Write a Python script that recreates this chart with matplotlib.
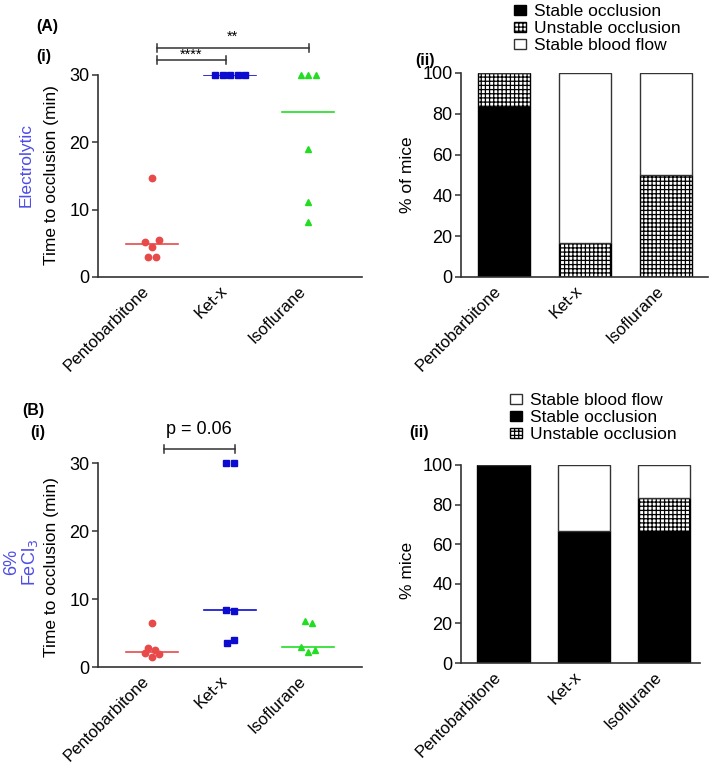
import numpy as np
import matplotlib
matplotlib.use('Agg')
import matplotlib.pyplot as plt
from matplotlib.patches import Patch
from matplotlib.transforms import ScaledTranslation

plt.rcParams['font.family'] = ['Liberation Sans', 'DejaVu Sans']
plt.rcParams['hatch.linewidth'] = 0.9

# data
groups = ['Pentobarbitone', 'Ket-x', 'Isoflurane']

# time to occlusion (min), electrolytic injury
elec_pento = [14.7, 5.2, 4.5, 5.5, 3.0, 3.0]
elec_ketx = [30, 30, 30, 30, 30]
elec_iso = [30, 30, 30, 19.0, 11.2, 8.2]

# time to occlusion (min), 6% FeCl3 injury
fecl_pento = [6.4, 2.0, 2.75, 1.5, 2.5, 1.9]
fecl_ketx = [30, 30, 8.4, 8.3, 3.5, 3.9]
fecl_iso = [6.7, 6.5, 2.9, 2.2, 2.5]

# % of mice per outcome
elec_stable_occ = [83.3, 0, 0]
elec_unstable_occ = [16.7, 16.7, 50.0]
elec_stable_flow = [0, 83.3, 50.0]

fecl_stable_occ = [100, 66.7, 66.7]
fecl_unstable_occ = [0, 0, 16.7]
fecl_stable_flow = [0, 33.3, 16.6]

colors = ['#e84a4a', '#0c0cd0', '#22dd22']
markers = ['o', 's', '^']
CHECK = '++++'

W, H = 709, 764
fig = plt.figure(figsize=(W / 100, H / 100), dpi=100)


def px_axes(x0, x1, ytop, ybot):
    return fig.add_axes([x0 / W, 1 - ybot / H, (x1 - x0) / W, (ybot - ytop) / H])


def style(ax):
    for s in ['top', 'right']:
        ax.spines[s].set_visible(False)
    for s in ['left', 'bottom']:
        ax.spines[s].set_linewidth(1.2)
        ax.spines[s].set_color('#333333')
    ax.tick_params(axis='y', length=4, width=1.1, color='#333333', labelsize=13, pad=2)
    ax.tick_params(axis='x', length=0, labelsize=12, pad=8.5)
    ax.set_xticks(range(len(groups)))
    ax.set_xticklabels(groups, rotation=45, ha='right', va='center', rotation_mode='anchor')
    shift = ScaledTranslation(-5 / 100, 0, fig.dpi_scale_trans)
    for lbl in ax.get_xticklabels():
        lbl.set_transform(lbl.get_transform() + shift)


def swarm(vals, ax, thresh=1.3):
    # spread near-equal points sideways, keeping the listed order left to right
    bb = ax.get_position()
    xr = ax.get_xlim()
    xpx = bb.width * W / (xr[1] - xr[0])
    vals = np.asarray(vals, float)
    order = np.argsort(vals, kind='stable')
    clusters = [[order[0]]]
    for i in order[1:]:
        if vals[i] - vals[clusters[-1][-1]] < thresh:
            clusters[-1].append(i)
        else:
            clusters.append([i])
    off = np.zeros(len(vals))
    for c in clusters:
        c = sorted(c)
        n = len(c)
        same = np.ptp(vals[c]) < 0.2
        step = 7.5 if same else (3.5 if n >= 4 else 7.0)
        for k, i in enumerate(c):
            off[i] = (k - (n - 1) / 2) * step / xpx
    return off


def scatter_panel(ax, data):
    ax.set_xlim(-0.69, 2.69)
    ax.set_ylim(0, 30)
    ax.set_yticks([0, 10, 20, 30])
    style(ax)
    for i, vals in enumerate(data):
        off = swarm(vals, ax)
        ax.plot(i + off, vals, linestyle='none', marker=markers[i], color=colors[i],
                markersize=4.6 if i != 1 else 4.4, clip_on=False, zorder=3)
        med = np.median(vals)
        ax.plot([i - 0.33, i + 0.33], [med, med], color=colors[i], lw=1.2, zorder=2)


def bar_panel(ax, occ, unst, flow):
    x = np.arange(len(groups))
    w = 0.65
    ax.bar(x, occ, w, color='black', edgecolor='black', lw=1)
    ax.bar(x, unst, w, bottom=occ, color='white', edgecolor='black', hatch=CHECK, lw=1)
    ax.bar(x, flow, w, bottom=np.add(occ, unst), color='white', edgecolor='#333333', lw=1)
    ax.set_ylim(0, 100)
    ax.set_yticks([0, 20, 40, 60, 80, 100])
    style(ax)


def bracket(ax, x0, x1, y, cap):
    kw = dict(color='#333333', lw=1.1, clip_on=False)
    ax.plot([x0, x1], [y, y], **kw)
    ax.plot([x0, x0], [y - cap, y + cap], **kw)
    ax.plot([x1, x1], [y - cap, y + cap], **kw)


ax1 = px_axes(98, 362, 75, 277)
ax2 = px_axes(461, 708, 73, 277)
ax3 = px_axes(98, 362, 463, 667)
ax4 = px_axes(461, 700, 465, 663)

scatter_panel(ax1, [elec_pento, elec_ketx, elec_iso])
scatter_panel(ax3, [fecl_pento, fecl_ketx, fecl_iso])

ax2.set_xlim(-0.53, 2.52)
ax4.set_xlim(-0.53, 2.45)
bar_panel(ax2, elec_stable_occ, elec_unstable_occ, elec_stable_flow)
bar_panel(ax4, fecl_stable_occ, fecl_unstable_occ, fecl_stable_flow)

# significance brackets
bracket(ax1, 0.06, 0.95, 32.2, 0.6)
ax1.text(0.5, 33.0, '****', ha='center', va='center', fontsize=10.5)
bracket(ax1, 0.06, 2.01, 34.0, 0.6)
ax1.text(1.03, 35.7, '**', ha='center', va='center', fontsize=10.5)
bracket(ax3, 0.15, 1.06, 32.1, 0.6)
ax3.text(0.6, 34.9, 'p = 0.06', ha='center', va='center', fontsize=13)

# legends
h_occ = Patch(facecolor='black', edgecolor='black', label='Stable occlusion')
h_uns = Patch(facecolor='white', edgecolor='black', hatch=CHECK, label='Unstable occlusion')
h_flow = Patch(facecolor='white', edgecolor='#333333', label='Stable blood flow')
leg_kw = dict(loc='upper left', bbox_transform=fig.transFigure, frameon=False, fontsize=12.5,
              handlelength=0.7, handleheight=0.55, handletextpad=0.45, labelspacing=0.12,
              borderpad=0, borderaxespad=0)
ax2.legend(handles=[h_occ, h_uns, h_flow], bbox_to_anchor=(514 / W, 1 - 4 / H), **leg_kw)
ax4.legend(handles=[h_flow, h_occ, h_uns], bbox_to_anchor=(510 / W, 1 - 393 / H), **leg_kw)


# axis titles and panel labels
def ftext(x, y, s, **kw):
    fig.text(x / W, 1 - y / H, s, **kw)


ftext(52, 175, 'Time to occlusion (min)', rotation=90, ha='center', va='center', fontsize=12.5)
ftext(26, 165, 'Electrolytic', rotation=90, ha='center', va='center', fontsize=12.5, color='#4d4de8')
ftext(52, 567, 'Time to occlusion (min)', rotation=90, ha='center', va='center', fontsize=12.5)
ftext(22, 562, '6%\nFeCl$_3$', rotation=90, ha='center', va='center', fontsize=13,
      color='#4d4de8', multialignment='center', linespacing=1.0)
ftext(408, 175, '% of mice', rotation=90, ha='center', va='center', fontsize=12.5)
ftext(407, 570, '% mice', rotation=90, ha='center', va='center', fontsize=12.5)

bold = dict(fontsize=11.5, fontweight='bold', va='center', ha='left')
ftext(36, 27, '(A)', **bold)
ftext(36, 57, '(i)', **bold)
ftext(415, 61, '(ii)', **bold)
ftext(22, 410, '(B)', **bold)
ftext(30, 433, '(i)', **bold)
ftext(409, 433, '(ii)', **bold)

fig.savefig('out.png', dpi=100)
